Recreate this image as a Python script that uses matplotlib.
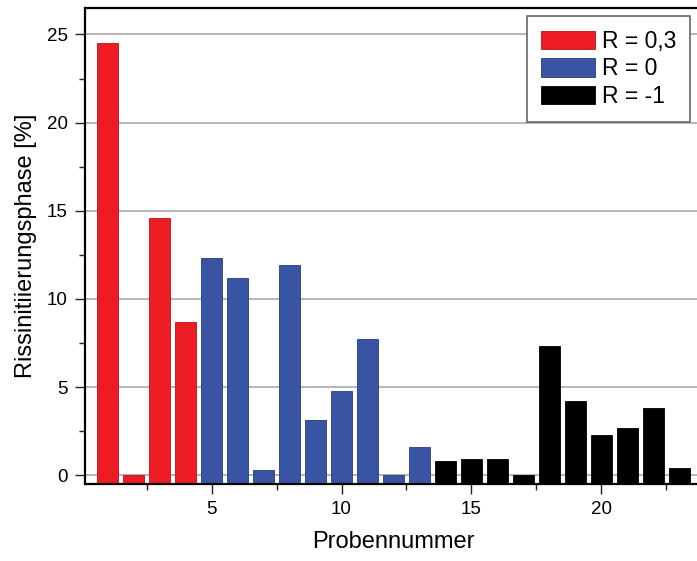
import numpy as np
import matplotlib
matplotlib.use("Agg")
import matplotlib.pyplot as plt
from matplotlib.ticker import MultipleLocator
from matplotlib.patches import Patch

plt.rcParams['font.family'] = ['Liberation Sans', 'DejaVu Sans']

# Sample numbers and crack-initiation share per load ratio
samples_r03 = [1, 2, 3, 4]
values_r03 = [24.5, 0.0, 14.6, 8.7]

samples_r0 = [5, 6, 7, 8, 9, 10, 11, 12, 13]
values_r0 = [12.3, 11.2, 0.3, 11.9, 3.15, 4.8, 7.75, 0.0, 1.6]

samples_rm1 = [14, 15, 16, 17, 18, 19, 20, 21, 22, 23]
values_rm1 = [0.8, 0.9, 0.9, 0.0, 7.3, 4.2, 2.3, 2.65, 3.8, 0.4]

legend_labels = ["R = 0,3", "R = 0", "R = -1"]
x_ticks = [5, 10, 15, 20]
y_ticks = [0, 5, 10, 15, 20, 25]

Y_MIN, Y_MAX = -0.5, 26.5
X_MIN, X_MAX = 0.13, 23.87

RED, RED_EDGE = "#ED1C24", "#B5141A"
BLUE, BLUE_EDGE = "#3A54A4", "#263C80"
BLACK, BLACK_EDGE = "#000000", "#000000"

fig = plt.figure(figsize=(6.97, 5.61), dpi=100)
ax = fig.add_axes([85 / 697, 77 / 561, 617 / 697, 476 / 561])

groups = [
    (samples_r03, values_r03, RED, RED_EDGE),
    (samples_r0, values_r0, BLUE, BLUE_EDGE),
    (samples_rm1, values_rm1, BLACK, BLACK_EDGE),
]
for xs, vs, fc, ec in groups:
    vs = np.asarray(vs, dtype=float)
    ax.bar(xs, vs - Y_MIN, bottom=Y_MIN, width=0.8, color=fc,
           edgecolor=ec, linewidth=0.6, zorder=2)

ax.set_xlim(X_MIN, X_MAX)
ax.set_ylim(Y_MIN, Y_MAX)

ax.set_xticks(x_ticks)
ax.set_yticks(y_ticks)
ax.xaxis.set_minor_locator(MultipleLocator(2.5))
ax.yaxis.set_minor_locator(MultipleLocator(2.5))
ax.tick_params(axis='both', which='major', direction='out', length=7.5,
               width=1.0, labelsize=13.5, pad=5, color='#222222')
ax.tick_params(axis='both', which='minor', direction='out', length=4,
               width=1.0, color='#222222')
ax.tick_params(axis='x', which='major', pad=5)

ax.yaxis.grid(True, which='major', color='#B0B0B0', linewidth=1.3, zorder=0)
ax.set_axisbelow(True)

for side in ['left', 'bottom', 'top', 'right']:
    ax.spines[side].set_linewidth(1.6)
    ax.spines[side].set_color('black')

ax.set_xlabel("Probennummer", fontsize=17, labelpad=9)
ax.set_ylabel("Rissinitiierungsphase [%]", fontsize=17, labelpad=7)

handles = [Patch(facecolor=RED, edgecolor=RED_EDGE, linewidth=0.6),
           Patch(facecolor=BLUE, edgecolor=BLUE_EDGE, linewidth=0.6),
           Patch(facecolor=BLACK, edgecolor=BLACK_EDGE, linewidth=0.6)]
leg = fig.legend(handles, legend_labels, loc='upper right',
                 bbox_to_anchor=(690 / 697, 1 - 16 / 561),
                 fontsize=16.5, frameon=True, fancybox=False,
                 handlelength=2.35, handleheight=0.85, handletextpad=0.3,
                 labelspacing=0.2, borderpad=0.6, borderaxespad=0.0)
leg.get_frame().set_edgecolor('#666666')
leg.get_frame().set_linewidth(1.2)
leg.get_frame().set_facecolor('white')
leg.get_frame().set_alpha(1.0)

fig.savefig("out.png", dpi=100)
